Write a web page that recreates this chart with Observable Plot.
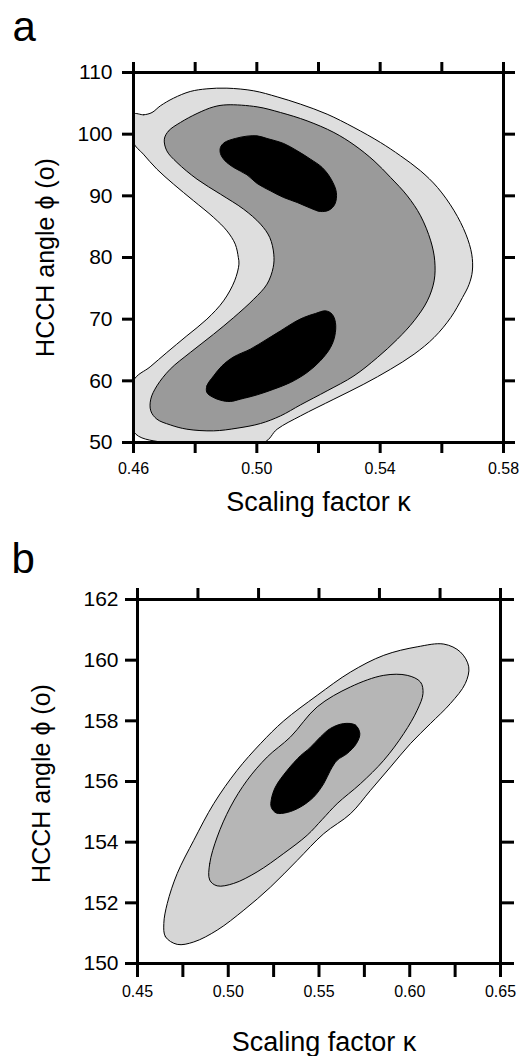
<!DOCTYPE html>
<html><head><meta charset="utf-8">
<script src="https://cdn.jsdelivr.net/npm/d3@7"></script>
<script src="https://cdn.jsdelivr.net/npm/@observablehq/plot@0.6"></script>
<style>
body{margin:0;background:#fff;}
#chart svg{display:block;}
</style></head><body><div id="chart"></div>
<script>
// ---------- Panel a data (x = scaling factor κ, y = HCCH angle φ) ----------
const aOuter = [[0.46,103.24],[0.4633,103.14],[0.466,103.51],[0.4687,104.59],[0.473,105.84],[0.4784,106.92],[0.4838,107.35],[0.4903,107.46],[0.499,107.03],[0.5066,106.05],[0.5142,104.86],[0.5228,103.24],[0.5315,101.08],[0.5401,98.65],[0.5466,96.49],[0.5531,94.05],[0.5586,91.35],[0.564,87.57],[0.5678,83.78],[0.5697,80.54],[0.5699,77.8],[0.5688,75.6],[0.5667,73.51],[0.5629,70.27],[0.5575,67.03],[0.551,64.32],[0.5434,61.89],[0.5347,59.46],[0.525,57.03],[0.5142,54.32],[0.5066,52.16],[0.5022,50.0],[0.4697,50.0],[0.46,51.78],[0.46,60.0],[0.4654,62.27],[0.4708,64.59],[0.4773,67.3],[0.4838,70.0],[0.4892,72.97],[0.4928,76.22],[0.4942,78.92],[0.494,80.0],[0.493,82.16],[0.4903,84.32],[0.486,86.49],[0.4795,89.19],[0.473,91.89],[0.4676,94.32],[0.4632,96.76],[0.46,98.65]];
const aMiddle = [[0.47,99.19],[0.4714,100.54],[0.4752,101.89],[0.4806,103.35],[0.486,104.43],[0.4903,104.76],[0.5001,104.43],[0.5077,103.51],[0.5163,102.16],[0.525,100.27],[0.5315,98.27],[0.538,95.68],[0.5434,92.97],[0.5488,90.0],[0.5531,86.76],[0.5564,82.7],[0.5577,79.46],[0.5575,76.22],[0.5553,72.97],[0.551,69.73],[0.5456,66.76],[0.5391,63.78],[0.5315,60.81],[0.5228,58.38],[0.5142,56.11],[0.5077,54.32],[0.5012,53.08],[0.4936,52.32],[0.486,51.89],[0.4773,52.16],[0.4719,52.86],[0.4676,53.78],[0.4656,55.14],[0.4656,57.03],[0.4676,59.19],[0.4719,61.89],[0.4784,64.59],[0.486,67.57],[0.4925,70.27],[0.499,73.24],[0.5033,75.68],[0.5053,78.38],[0.5055,80.54],[0.5042,83.24],[0.5012,85.41],[0.4957,87.84],[0.4882,90.27],[0.4806,92.7],[0.4741,95.41],[0.4708,97.3]];
const aCoreUpper = [[0.4882,97.84],[0.4895,98.65],[0.493,99.3],[0.4968,99.68],[0.5001,99.73],[0.5033,99.3],[0.5087,98.49],[0.5131,97.3],[0.5174,95.95],[0.5212,94.59],[0.5241,92.7],[0.5258,90.54],[0.5253,88.65],[0.5234,87.68],[0.5206,87.46],[0.5174,88.0],[0.5131,88.92],[0.5087,89.73],[0.5044,90.81],[0.5001,92.0],[0.4968,93.41],[0.4925,94.59],[0.4895,95.78],[0.4882,96.86]];
const aCoreLower = [[0.4838,58.11],[0.4838,59.19],[0.486,60.81],[0.4887,62.43],[0.4925,63.89],[0.4979,65.14],[0.5033,66.76],[0.5077,68.11],[0.512,69.46],[0.5152,70.27],[0.519,70.92],[0.5223,71.35],[0.5244,70.81],[0.5255,69.46],[0.5253,67.3],[0.5239,65.41],[0.5206,63.24],[0.5163,61.35],[0.5109,59.73],[0.5055,58.65],[0.5001,57.73],[0.4947,57.03],[0.4914,56.65],[0.4882,56.86],[0.4855,57.41]];
const aXTicks = [0.46,0.48,0.50,0.52,0.54,0.56,0.58];
const aXTickLabels = ["0.46","","0.50","","0.54","","0.58"];
const aYTicks = [50,60,70,80,90,100,110];

// ---------- Panel b data ----------
const bOuter = [[0.4719,150.63],[0.4654,150.88],[0.4645,151.32],[0.4664,151.98],[0.4719,152.97],[0.481,154.06],[0.492,155.27],[0.5049,156.37],[0.5178,157.25],[0.5306,158.0],[0.549,158.84],[0.5674,159.61],[0.5857,160.16],[0.6041,160.44],[0.6188,160.53],[0.6279,160.27],[0.6325,159.78],[0.6306,159.23],[0.6224,158.57],[0.6114,157.91],[0.6004,157.25],[0.5894,156.48],[0.5784,155.71],[0.5674,154.94],[0.5526,154.28],[0.538,153.4],[0.5233,152.52],[0.5086,151.76],[0.4939,151.1],[0.481,150.71]];
const bMiddle = [[0.4898,152.75],[0.4898,153.3],[0.4939,154.17],[0.5012,155.16],[0.5104,156.04],[0.5215,156.81],[0.5343,157.47],[0.549,158.46],[0.5674,159.12],[0.5857,159.5],[0.5986,159.5],[0.6059,159.28],[0.6073,158.9],[0.6041,158.35],[0.5967,157.58],[0.5857,156.7],[0.5729,155.93],[0.56,155.27],[0.5518,154.75],[0.5435,154.23],[0.5306,153.63],[0.5159,153.02],[0.503,152.64],[0.4939,152.56]];
const bCore = [[0.5636,157.91],[0.5701,157.86],[0.5725,157.58],[0.5706,157.25],[0.5655,156.92],[0.56,156.7],[0.5563,156.37],[0.5526,155.93],[0.5471,155.49],[0.5398,155.16],[0.5325,154.98],[0.5265,154.96],[0.5237,155.15],[0.5237,155.4],[0.526,155.82],[0.5325,156.37],[0.5398,156.85],[0.5448,157.1],[0.5508,157.47],[0.5563,157.75]];
const bXTicksBottom = [0.45,0.475,0.50,0.525,0.55,0.575,0.60,0.625,0.65];
const bXTickLabels = ["0.45","","0.50","","0.55","","0.60","","0.65"];
const bXTicksTop = [0.45,0.4833,0.5167,0.55,0.5833,0.6167,0.65];
const bYTicks = [150,152,154,156,158,160,162];

const xTitle = "Scaling factor κ";
const yTitle = "HCCH angle ϕ (o)";
const panelLetters = ["a", "b"];

const FONT = "'Liberation Sans', Arial, Helvetica, sans-serif";
const noLabel = () => "";

function shape(pts, fill) {
  return Plot.line(pts, {x: d => d[0], y: d => d[1], curve: "catmull-rom-closed",
    fill, stroke: "#000", strokeWidth: 1, clip: true});
}
function fmt(ticks, labels) {
  const m = new Map(ticks.map((v, i) => [v, labels[i]]));
  return d => m.get(d) ?? "";
}

const chart = document.getElementById("chart");

// Panel a
chart.append(Plot.plot({
  width: 523, height: 528,
  marginTop: 72, marginBottom: 86, marginLeft: 133, marginRight: 20,
  x: {domain: [0.46, 0.58]},
  y: {domain: [50, 110]},
  style: {fontFamily: FONT, color: "#000", background: "#fff", overflow: "visible"},
  marks: [
    shape(aOuter, "#dedede"),
    shape(aMiddle, "#9a9a9a"),
    shape(aCoreUpper, "#000"),
    shape(aCoreLower, "#000"),
    Plot.frame({strokeWidth: 3}),
    Plot.axisX({anchor: "bottom", ticks: aXTicks, tickFormat: fmt(aXTicks, aXTickLabels), tickSize: 11, tickPadding: 9, strokeWidth: 3, fontSize: 16, label: null}),
    Plot.axisX({anchor: "top", ticks: aXTicks, tickFormat: noLabel, tickSize: 11, strokeWidth: 3, label: null}),
    Plot.axisY({anchor: "left", ticks: aYTicks, tickFormat: d => String(d), tickSize: 11, tickPadding: 10, strokeWidth: 3, fontSize: 21, label: null}),
    Plot.axisY({anchor: "right", ticks: aYTicks, tickFormat: noLabel, tickSize: 11, strokeWidth: 3, label: null}),
    Plot.text([yTitle], {text: d => d, frameAnchor: "left", rotate: -90, dx: -88, fontSize: 25, lineAnchor: "middle", textAnchor: "middle"}),
    Plot.text([xTitle], {text: d => d, frameAnchor: "bottom", dy: 68, fontSize: 27, lineAnchor: "bottom", textAnchor: "middle"}),
    Plot.text([panelLetters[0]], {text: d => d, frameAnchor: "top-left", dx: -121, dy: -32, fontSize: 42, lineAnchor: "bottom", textAnchor: "start"})
  ]
}));

// Panel b
chart.append(Plot.plot({
  width: 523, height: 528,
  marginTop: 71, marginBottom: 93, marginLeft: 137, marginRight: 23,
  x: {domain: [0.45, 0.65]},
  y: {domain: [150, 162]},
  style: {fontFamily: FONT, color: "#000", background: "#fff", overflow: "visible"},
  marks: [
    shape(bOuter, "#d6d6d6"),
    shape(bMiddle, "#b6b6b6"),
    shape(bCore, "#000"),
    Plot.frame({strokeWidth: 3}),
    Plot.axisX({anchor: "bottom", ticks: bXTicksBottom, tickFormat: fmt(bXTicksBottom, bXTickLabels), tickSize: 14, tickPadding: 8, strokeWidth: 3, fontSize: 16, label: null}),
    Plot.axisX({anchor: "top", ticks: bXTicksTop, tickFormat: noLabel, tickSize: 12, strokeWidth: 3, label: null}),
    Plot.axisY({anchor: "left", ticks: bYTicks, tickFormat: d => String(d), tickSize: 12, tickPadding: 7, strokeWidth: 3, fontSize: 21, label: null}),
    Plot.axisY({anchor: "right", ticks: bYTicks, tickFormat: noLabel, tickSize: 13, strokeWidth: 3, label: null}),
    Plot.text([yTitle], {text: d => d, frameAnchor: "left", rotate: -90, dx: -96, dy: 2, fontSize: 25, lineAnchor: "middle", textAnchor: "middle"}),
    Plot.text([xTitle], {text: d => d, frameAnchor: "bottom", dx: 5, dy: 87, fontSize: 27, lineAnchor: "bottom", textAnchor: "middle"}),
    Plot.text([panelLetters[1]], {text: d => d, frameAnchor: "top-left", dx: -126, dy: -27, fontSize: 42, lineAnchor: "bottom", textAnchor: "start"})
  ]
}));
</script></body></html>
